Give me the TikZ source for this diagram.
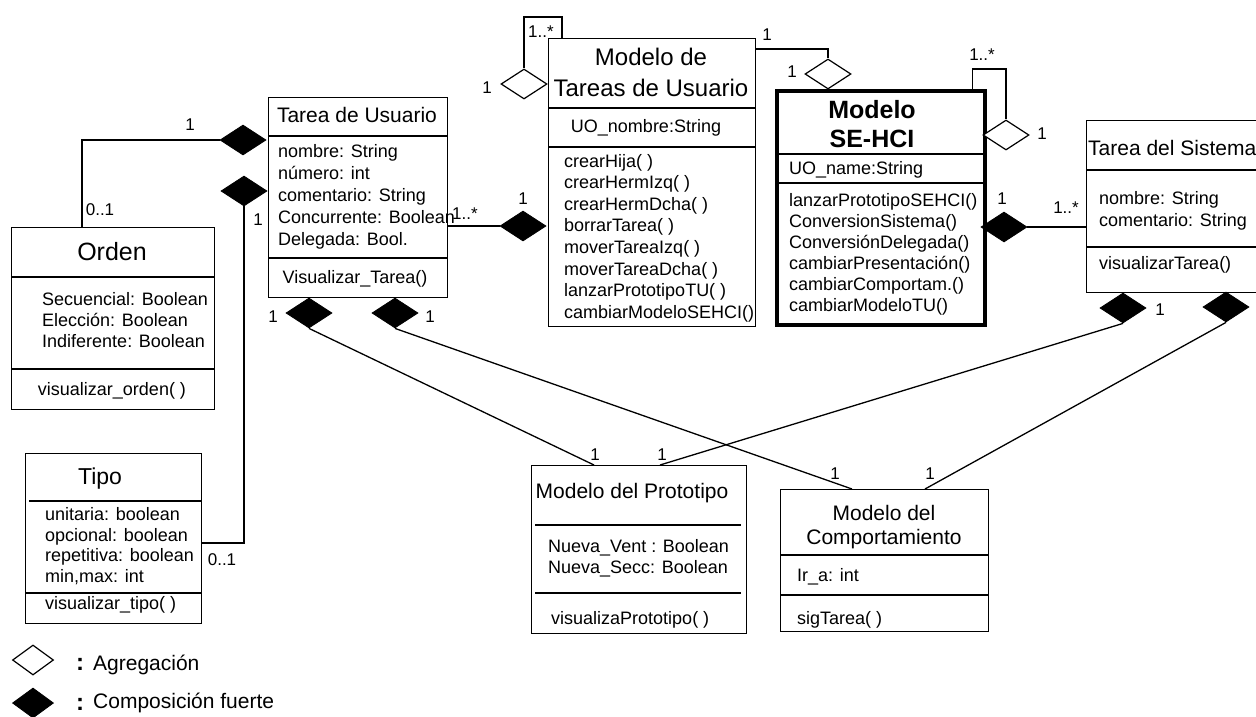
\documentclass[tikz,border=0pt]{standalone}
\usepackage{fontspec}
\setmainfont{Liberation Sans}
\usetikzlibrary{shapes.geometric}
\newcommand\setfs[2]{\fontsize{#1}{#2}\selectfont}
\begin{document}
\begin{tikzpicture}[x=1pt,y=-1pt,
  cls/.style={draw, line width=1.4pt, inner sep=0pt, anchor=north west},
  keycls/.style={cls, line width=3.6pt},
  rule/.style={line width=1.4pt},
  conn/.style={line width=1.3pt},
  comp/.style={diamond, fill=black, draw=black, line width=0.8pt, inner sep=0pt,
               minimum width=46pt, minimum height=30pt},
  agg/.style={diamond, fill=white, draw=black, line width=1.2pt, inner sep=0pt,
              minimum width=46pt, minimum height=30pt},
  txt/.style={inner sep=0pt, font=\setfs{18}{21}},
  lst/.style={inner sep=0pt, anchor=west, align=left},
  ttl/.style={inner sep=0pt, font=\setfs{21}{24}},
  mult/.style={inner sep=0pt, font=\setfs{17}{20}}]

\useasboundingbox (0,0) rectangle (1256,716);

% ---------- class boxes ----------
\node[cls, minimum width=203pt, minimum height=182pt] (orden) at (11,227) {};
\node[cls, minimum width=176pt, minimum height=170pt] (tipo)  at (25,453) {};
\node[cls, minimum width=179pt, minimum height=200pt] (tusr)  at (268,97) {};
\node[cls, minimum width=207pt, minimum height=288pt] (mtu)   at (548,38) {};
\node[keycls, minimum width=208pt, minimum height=234pt] (sehci) at (775,89) {};
\node[cls, minimum width=190pt, minimum height=172pt] (tsis)  at (1086,120) {};
\node[cls, minimum width=215pt, minimum height=168pt] (proto) at (531,465) {};
\node[cls, minimum width=208pt, minimum height=142pt] (compo) at (780,489) {};

% ---------- compartment rules ----------
\draw[rule] (11,277) -- (214,277);  \draw[rule] (11,369) -- (214,369);
\draw[rule] (29,501) -- (201,501);  \draw[rule] (25,593) -- (201,593);
\draw[rule] (268,136) -- (447,136); \draw[rule] (268,258) -- (447,258);
\draw[rule] (548,108) -- (755,108); \draw[rule] (548,147) -- (755,147);
\draw[rule] (775,154) -- (983,154); \draw[rule] (775,183) -- (983,183);
\draw[rule] (1086,170) -- (1262,170); \draw[rule] (1086,247) -- (1262,247);
\draw[rule] (535,525) -- (741,525); \draw[rule] (535,593) -- (741,593);
\draw[rule] (780,555) -- (988,555); \draw[rule] (780,595) -- (988,595);

% ---------- Orden ----------
\node[inner sep=0pt, font=\setfs{25}{30}] (ordenT) at (112,252) {Orden};
\node[lst, font=\setfs{18}{21}] (ordenA) at (42,320)
  {Secuencial: Boolean\\Elección: Boolean\\Indiferente: Boolean};
\node[txt] (ordenM) at (112,391) {visualizar\_orden( )};

% ---------- Tipo ----------
\node[inner sep=0pt, font=\setfs{23}{28}] (tipoT) at (100,479) {Tipo};
\node[lst, font=\setfs{18}{20.6}] (tipoA) at (45,546)
  {unitaria: boolean\\opcional: boolean\\repetitiva: boolean\\min,max: int};
\node[lst, font=\setfs{18}{21}] (tipoM) at (45,605) {visualizar\_tipo( )};

% ---------- Tarea de Usuario ----------
\node[ttl] (tusrT) at (357,115) {Tarea de Usuario};
\node[lst, font=\setfs{18}{22}] (tusrA) at (278,197)
  {nombre: String\\número: int\\comentario: String\\Concurrente: Boolean\\Delegada: Bool.};
\node[txt] (tusrM) at (355,279) {Visualizar\_Tarea()};

% ---------- Modelo de Tareas de Usuario ----------
\node[inner sep=0pt, align=center, font=\setfs{24}{31}] (mtuT) at (651,72)
  {Modelo de\\Tareas de Usuario};
\node[txt] (mtuA) at (646,128) {UO\_nombre:String};
\node[lst, font=\setfs{18}{21.6}] (mtuM) at (564,238)
  {crearHija( )\\crearHermIzq( )\\crearHermDcha( )\\borrarTarea( )\\moverTareaIzq( )\\moverTareaDcha( )\\lanzarPrototipoTU( )\\cambiarModeloSEHCI()};

% ---------- Modelo SE-HCI ----------
\node[inner sep=0pt, align=center, font=\setfs{25}{29}\bfseries] (sehciT) at (872,124)
  {Modelo\\SE-HCI};
\node[lst, font=\setfs{18}{21}] (sehciA) at (789,170) {UO\_name:String};
\node[lst, font=\setfs{18}{21}] (sehciM) at (789,254)
  {lanzarPrototipoSEHCI()\\ConversionSistema()\\ConversiónDelegada()\\cambiarPresentación()\\cambiarComportam.()\\cambiarModeloTU()};

% ---------- Tarea del Sistema ----------
\node[ttl, anchor=west] (tsisT) at (1088,148) {Tarea del Sistema};
\node[lst, font=\setfs{18}{22}] (tsisA) at (1099,211) {nombre: String\\comentario: String};
\node[lst, font=\setfs{18}{21}] (tsisM) at (1099,265) {visualizarTarea()};

% ---------- Modelo del Prototipo ----------
\node[ttl] (protoT) at (632,493) {Modelo del Prototipo};
\node[lst, font=\setfs{18}{21}] (protoA) at (548,558) {Nueva\_Vent : Boolean\\Nueva\_Secc: Boolean};
\node[lst, font=\setfs{18}{21}] (protoM) at (551,620) {visualizaPrototipo( )};

% ---------- Modelo del Comportamiento ----------
\node[inner sep=0pt, align=center, font=\setfs{21}{23.5}] (compoT) at (884,527)
  {Modelo del\\Comportamiento};
\node[lst, font=\setfs{18}{21}] (compoA) at (797,577) {Ir\_a: int};
\node[lst, font=\setfs{18}{21}] (compoM) at (797,620) {sigTarea( )};

% ---------- association ends ----------
\node[comp] (dOrd)   at (243,140) {};
\node[comp] (dTipo)  at (244,191) {};
\node[comp] (dTM)    at (523,226) {};
\node[comp] (dTP)    at (309,313) {};
\node[comp] (dTC)    at (395,313) {};
\node[comp] (dSH)    at (1004,227) {};
\node[comp] (dSP)    at (1123,308) {};
\node[comp] (dSC)    at (1226,307) {};
\node[agg]  (dMself) at (524,84) {};
\node[agg]  (dMS)    at (828,74) {};
\node[agg]  (dSself) at (1006,135) {};

% ---------- connectors ----------
\draw[conn] (dOrd.west) -| ([xshift=71pt]orden.north west);
\draw[conn] (dTipo.south) |- ([yshift=-90pt]tipo.north east);
\draw[conn] (tusr.east |- dTM.west) -- (dTM.west);
\draw[conn] ([xshift=14pt]mtu.north west) -- ++(0,-21) -| (dMself.north);
\draw[conn] ([yshift=-11pt]mtu.north east) -| (dMS.north);
\draw[conn] ([xshift=-14pt]sehci.north east) -- ++(0,-20) -| (dSself.north);
\draw[conn] (dSH.east) -- (dSH.east -| tsis.west);
\draw[conn] (dTP.south) -- ([xshift=63pt]proto.north west);
\draw[conn] (dTC.south) -- ([xshift=72pt]compo.north west);
\draw[conn] (dSP.south) -- ([xshift=129pt]proto.north west);
\draw[conn] (dSC.south) -- ([xshift=145pt]compo.north west);

% ---------- multiplicities ----------
\node[mult] (m1)  at (190,125) {1};
\node[mult] (m2)  at (100,210) {0..1};
\node[mult] (m3)  at (258,220) {1};
\node[mult] (m4)  at (222,560) {0..1};
\node[mult] (m5)  at (465,214) {1..*};
\node[mult] (m6)  at (523,199) {1};
\node[mult] (m7)  at (541,32) {1..*};
\node[mult] (m8)  at (487,88) {1};
\node[mult] (m9)  at (767,35) {1};
\node[mult] (m10) at (792,72) {1};
\node[mult] (m11) at (982,55) {1..*};
\node[mult] (m12) at (1042,134) {1};
\node[mult] (m13) at (1002,199) {1};
\node[mult] (m14) at (1066,208) {1..*};
\node[mult] (m15) at (273,317) {1};
\node[mult] (m16) at (430,317) {1};
\node[mult] (m17) at (1160,310) {1};
\node[mult] (m18) at (595,455) {1};
\node[mult] (m19) at (662,455) {1};
\node[mult] (m20) at (835,474) {1};
\node[mult] (m21) at (930,474) {1};

% ---------- legend ----------
\node[agg, minimum width=41pt] (lgA) at (33,660) {};
\node[comp, minimum width=41pt] (lgC) at (33,703) {};
\node[inner sep=0pt, font=\setfs{24}{28}\bfseries] (lgAc) at (80,664) {:};
\node[inner sep=0pt, font=\setfs{24}{28}\bfseries] (lgCc) at (80,704) {:};
\node[inner sep=0pt, anchor=west, font=\setfs{21}{24}] (lgAt) at (93,665) {Agregación};
\node[inner sep=0pt, anchor=west, font=\setfs{21}{24}] (lgCt) at (93,703) {Composición fuerte};
\end{tikzpicture}
\end{document}
